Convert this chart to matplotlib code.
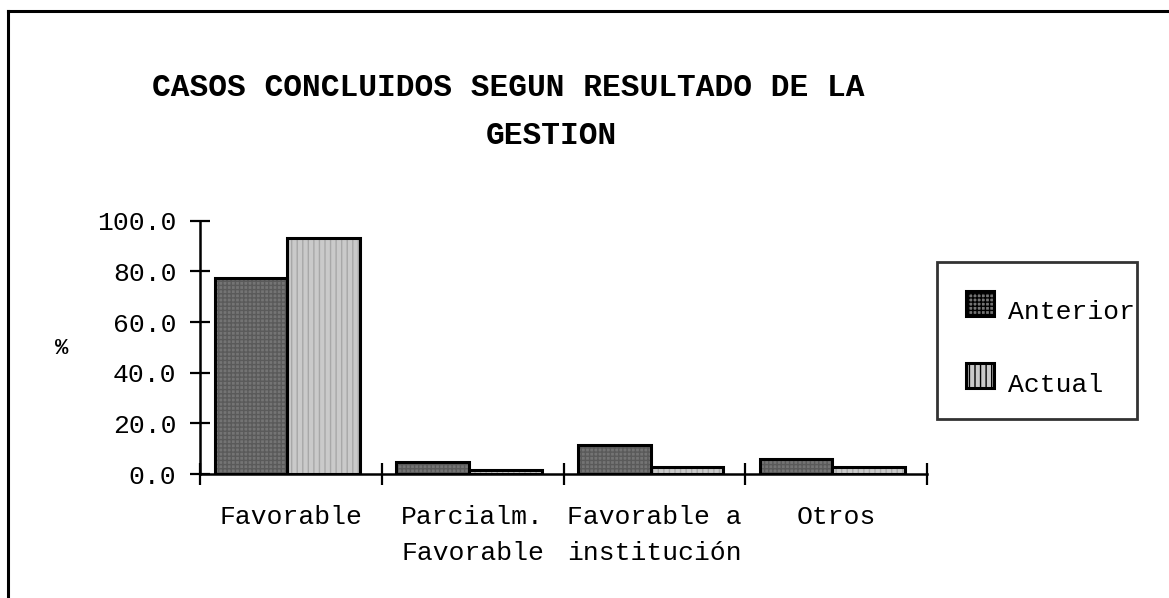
import numpy as np
import matplotlib.pyplot as plt
from matplotlib.lines import Line2D
from matplotlib.patches import Patch

categories = ["Favorable", "Parcialm.\nFavorable", "Favorable a\ninstitución", "Otros"]
anterior = [77.2, 4.6, 11.4, 6.0]
actual = [93.0, 1.5, 2.6, 2.6]
yticks = [0, 20, 40, 60, 80, 100]

plt.rcParams['font.family'] = ['Liberation Mono', 'DejaVu Sans Mono']

fig = plt.figure(figsize=(11.69, 5.98), dpi=100)
ax = fig.add_axes([200 / 1169, 1 - 474 / 598, 727 / 1169, 253.3 / 598])

ind = np.arange(len(categories))
width = 0.4
shift = -0.02

# fill with hatch first, then outline on top
ax.bar(ind - width / 2 + shift, anterior, width, color='#747474', edgecolor='#5a5a5a',
       hatch='++++', linewidth=0)
ax.bar(ind + width / 2 + shift, actual, width, color='#cacaca', edgecolor='#a8a8a8',
       hatch='|||', linewidth=0)
ax.bar(ind - width / 2 + shift, anterior, width, fill=False, edgecolor='black', linewidth=2.2)
ax.bar(ind + width / 2 + shift, actual, width, fill=False, edgecolor='black', linewidth=2.2)

ax.set_xlim(-0.5, len(categories) - 0.5)
ax.set_ylim(0, 100)
ax.set_yticks(yticks)
ax.set_yticklabels([f"{v:.1f}" for v in yticks], fontsize=19)
ax.set_xticks(ind)
ax.set_xticklabels(categories, fontsize=19, linespacing=1.62)
ax.set_xticks(np.arange(len(categories) + 1) - 0.5, minor=True)

ax.tick_params(axis='y', direction='inout', length=14, width=1.6, pad=10)
ax.tick_params(axis='x', which='major', length=0, pad=22.5)
ax.tick_params(axis='x', which='minor', direction='inout', length=16, width=1.6)

for s in ['top', 'right']:
    ax.spines[s].set_visible(False)
for s in ['left', 'bottom']:
    ax.spines[s].set_linewidth(1.8)
ax.spines['bottom'].set_bounds(-0.5, len(categories) - 0.5)

fig.text(62 / 1169, 1 - 348 / 598, "%", fontsize=16, fontweight='bold',
         ha='center', va='center')

fig.text(508 / 1169, 1 - 88 / 598, "CASOS CONCLUIDOS SEGUN RESULTADO DE LA",
         fontsize=22.5, fontweight='bold', ha='center', va='center')
fig.text(551 / 1169, 1 - 136 / 598, "GESTION",
         fontsize=22.5, fontweight='bold', ha='center', va='center')

# legend
handles = [Patch(facecolor='#747474', edgecolor='black', linewidth=2.2, hatch='++++'),
           Patch(facecolor='#cacaca', edgecolor='black', linewidth=2.2, hatch='|||')]
leg = fig.legend(handles, ["Anterior", "Actual"], loc='upper left',
                 bbox_to_anchor=(937 / 1169, 1 - 262 / 598, 200 / 1169, 0.0),
                 mode='expand', fontsize=19, frameon=True, fancybox=False,
                 edgecolor='black', borderpad=1.1, labelspacing=1.75,
                 handlelength=1.05, handleheight=1.05, handletextpad=0.55,
                 borderaxespad=0)
leg.get_frame().set_linewidth(2)
for t in leg.get_texts():
    t.set_va('center')

# outer frame (left and top only visible)
fig.add_artist(Line2D([8 / 1169, 8 / 1169], [0, 1 - 11 / 598], color='black',
                      linewidth=2.2, transform=fig.transFigure))
fig.add_artist(Line2D([8 / 1169, 1], [1 - 11 / 598, 1 - 11 / 598], color='black',
                      linewidth=2.2, transform=fig.transFigure))

fig.savefig("out.png", dpi=100)
